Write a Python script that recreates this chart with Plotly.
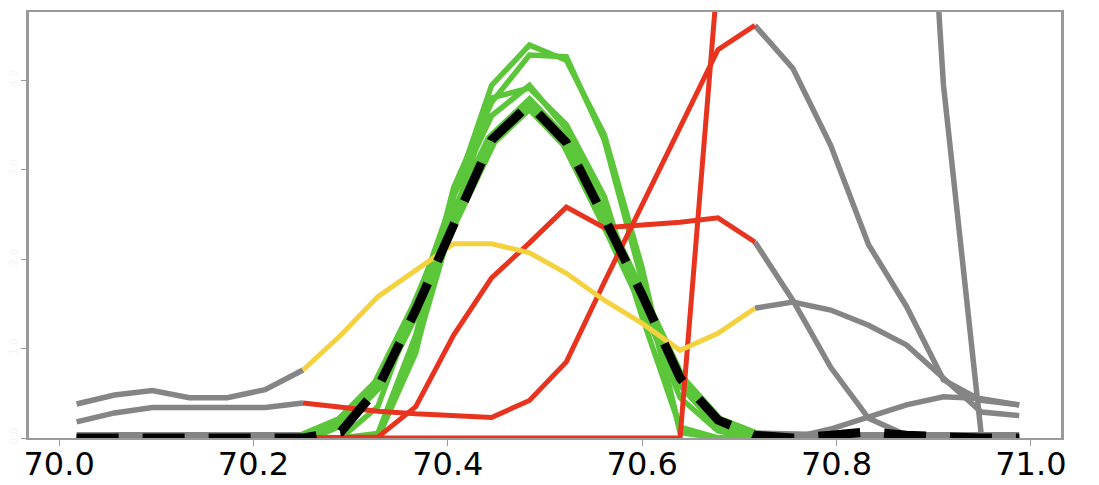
import plotly.graph_objects as go

# Sample positions (shared by every profile)
x_vals = [70.018, 70.057, 70.096, 70.134, 70.173, 70.212, 70.251, 70.290, 70.328,
          70.367, 70.406, 70.445, 70.484, 70.522, 70.561, 70.600, 70.639, 70.678,
          70.716, 70.755, 70.794, 70.833, 70.872, 70.910, 70.949, 70.988]

# Highlighted window (indices into x_vals)
win_start, win_end = 6, 18

# Profiles classified as good fits
green_thick = [0, 0, 0, 0, 0, 0, 0.0, 0.18, 0.6, 1.45, 2.45, 3.33, 3.73, 3.30, 2.45,
               1.58, 0.65, 0.18, 0.02, 0, 0, 0, 0, 0, 0, 0]
green_1 = [0, 0, 0, 0, 0, 0, 0.0, 0.0, 0.35, 1.5, 2.7, 3.6, 3.94, 3.45, 2.55,
           1.5, 0.45, 0.08, 0.0, 0.0, 0.1, 0.23, 0.37, 0.46, 0.44, 0.37]
green_2 = [0, 0, 0, 0, 0, 0, 0.0, 0.0, 0.0, 0.95, 2.7, 3.94, 4.39, 4.22, 3.39,
           1.9, 0.06, 0.0, 0.0, 0, 0, 0, 0, 0, 0, 0]
green_3 = [0, 0, 0, 0, 0, 0, 0.0, 0.0, 0.05, 1.15, 2.8, 3.75, 4.28, 4.26, 3.33,
           1.75, 0.08, 0.0, 0.0, 0, 0, 0, 0, 0, 0, 0]
green_4 = [0, 0, 0, 0, 0, 0, 0.0, 0.0, 0.0, 1.0, 2.45, 3.8, 3.91, 3.5, 2.7,
           1.35, 0.12, 0.0, 0.0, 0, 0, 0, 0, 0, 0, 0]

# Intermediate profile
yellow_1 = [0.38, 0.48, 0.53, 0.45, 0.45, 0.54, 0.76, 1.15, 1.58, 1.88, 2.17, 2.17,
            2.07, 1.84, 1.54, 1.28, 0.98, 1.17, 1.45, 1.52, 1.43, 1.26, 1.04, 0.67,
            0.29, 0.25]

# Profiles classified as poor fits
red_1 = [0.18, 0.28, 0.34, 0.34, 0.34, 0.34, 0.39, 0.34, 0.30, 0.27, 0.25, 0.23,
         0.42, 0.85, 1.74, 2.62, 3.47, 4.34, 4.61, 4.13, 3.27, 2.16, 1.47, 0.65,
         0.42, 0.37]
red_2 = [0, 0, 0, 0, 0, 0, 0.0, 0.0, 0.01, 0.35, 1.15, 1.79, 2.18, 2.58, 2.35,
         2.38, 2.41, 2.46, 2.19, 1.54, 0.79, 0.22, 0.03, 0.01, 0.0, 0.0]
red_3 = [0, 0, 0, 0, 0, 0, 0.0, 0.0, 0.0, 0.0, 0.0, 0.0, 0.0, 0.0, 0.0,
         0.0, 0.0, 5.2, 9.5, 13.0, 14.0, 13.0, 10.5, 3.95, 0.03, 0.0]

# Mean profile
mean_profile = [0, 0, 0, 0, 0, 0, 0.0, 0.07, 0.56, 1.43, 2.41, 3.33, 3.73, 3.30,
                2.46, 1.60, 0.67, 0.20, 0.03, 0.0, 0.03, 0.07, 0.03, 0.01, 0.0, 0.0]

GRAY = "#858585"
RED = "#E8331F"
YELLOW = "#F4D23F"
GREEN = "#5CC63A"

fig = go.Figure()


def add_line(xs, ys, color, width, dash=None):
    fig.add_trace(go.Scatter(
        x=xs, y=ys, mode="lines",
        line=dict(color=color, width=width, dash=dash),
        hoverinfo="skip", showlegend=False,
    ))


def add_profile_tails(ys, width=5.5):
    add_line(x_vals[:win_start + 1], ys[:win_start + 1], GRAY, width)
    add_line(x_vals[win_end:], ys[win_end:], GRAY, width)


def add_profile_window(ys, color, width=5):
    add_line(x_vals[win_start:win_end + 1], ys[win_start:win_end + 1], color, width)


profiles = [
    (green_2, GREEN), (green_3, GREEN), (green_4, GREEN), (green_1, GREEN),
    (red_3, RED), (red_2, RED), (red_1, RED), (yellow_1, YELLOW),
]

# Gray tails outside the window
for ys, _ in profiles:
    add_profile_tails(ys)
add_profile_tails(green_thick, 12)

# Thick green under the mean, then thin greens
add_profile_window(green_thick, GREEN, 13)
for ys, col in profiles:
    if col == GREEN:
        add_profile_window(ys, col, 5.5)
for ys, col in profiles:
    if col != GREEN:
        add_profile_window(ys, col)

# Mean profile, dashed black
add_line(x_vals, mean_profile, "black", 9, dash="42px,24px")

fig.update_layout(
    width=1099, height=485,
    margin=dict(l=29, r=38, t=12, b=47, autoexpand=False),
    paper_bgcolor="white", plot_bgcolor="white",
    font=dict(family="DejaVu Sans", color="black"),
)
fig.update_xaxes(
    range=[69.969, 71.031], automargin=False,
    tickvals=[70.0, 70.2, 70.4, 70.6, 70.8, 71.0],
    ticktext=["70.0", "70.2", "70.4", "70.6", "70.8", "71.0"],
    tickfont=dict(size=32, color="black"),
    ticks="outside", ticklen=6, tickcolor="#9a9a9a", tickwidth=1,
    ticklabelstandoff=-9,
    showline=True, linecolor="#9a9a9a", linewidth=2, mirror=True,
    showgrid=False, zeroline=False,
)
fig.update_yaxes(
    range=[0, 4.76], automargin=False,
    tickvals=[0, 1, 2, 3, 4],
    ticktext=["0.0", "1.0", "2.0", "3.0", "4.0"],
    tickfont=dict(size=11, color="#f4f4f4"), tickangle=-90,
    ticks="outside", ticklen=5, tickcolor="#9a9a9a", tickwidth=1,
    showline=True, linecolor="#9a9a9a", linewidth=2.5, mirror=True,
    showgrid=False, zeroline=False,
)

fig.write_html("out.html")
